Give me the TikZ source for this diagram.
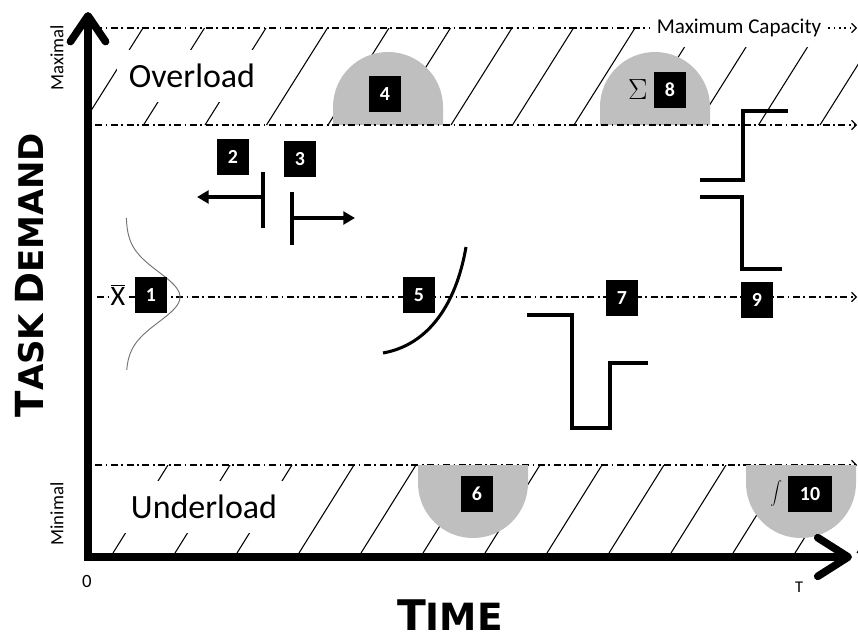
\documentclass[tikz,border=0pt]{standalone}
\usepackage{fontspec}
\setmainfont{Carlito}
\newfontfamily\headfont{DejaVu Sans}
\usetikzlibrary{positioning, arrows.meta}

\begin{document}
\begin{tikzpicture}[
  x=0.03cm, y=-0.03cm,
  numbox/.style={rectangle, fill=black, text=white, font=\bfseries\fontsize{17}{17}\selectfont, minimum width=27pt, minimum height=31pt, inner sep=0pt},
  band/.style={rectangle, fill=white, minimum height=44pt, font=\fontsize{29}{29}\selectfont},
  level/.style={line width=1pt, dash pattern=on 6pt off 3pt on 1.5pt off 3pt},
  levelarrow/.style={level, -{Straight Barb[length=4pt,width=8pt,line width=1pt]}},
  hatch/.style={line width=0.9pt},
  bump/.style={fill=black!25},
  signal/.style={line width=2.6pt},
  axis/.style={line width=6.5pt, line join=miter, {Straight Barb[length=22pt,width=30pt,round]}-{Straight Barb[length=26pt,width=33pt,round]}},
  axislabel/.style={font=\headfont\bfseries, inner sep=0pt},
  tick/.style={font=\fontsize{16}{16}\selectfont}
]

\useasboundingbox (0,0) rectangle (858,642);

% Overload hatching
\begin{scope}
  \clip (88,28) rectangle (858,125);
  \foreach \b in {82,143.5,...,870}
    \draw[hatch] (\b,125) -- ++(61,-97);
\end{scope}

% Underload hatching
\begin{scope}
  \clip (88,465) rectangle (858,553);
  \foreach \b in {113,175,...,900}
    \draw[hatch] (\b,553) -- ++(55,-88);
\end{scope}

% Band labels
\node[band, minimum width=128pt] (overload) at (192,76) {Overload};
\node[band, minimum width=160pt] (underload) at (204,507) {Underload};
\node[rectangle, fill=white, inner xsep=6pt, minimum height=32pt, font=\fontsize{18}{18}\selectfont] (capacity) at (739,28) {Maximum Capacity};

% Minimal level
\coordinate (lol) at (95,465);
\coordinate (lor) at (857,465);
\draw[levelarrow] (lol) -- (lor);

% Half discs
\fill[bump] (333,125) -- (333,107) arc[start angle=180, end angle=0, radius=1.65cm] -- (443,125) -- cycle;
\fill[bump] (600,125) -- (600,107) arc[start angle=180, end angle=0, radius=1.65cm] -- (710,125) -- cycle;
\fill[bump] (418,465) -- (418,483) arc[start angle=180, end angle=360, radius=1.65cm] -- (528,465) -- cycle;
\fill[bump] (746,465) -- (746,483) arc[start angle=180, end angle=360, radius=1.65cm] -- (856,465) -- cycle;

% Other levels
\coordinate (maxl) at (95,28);
\coordinate (maxr) at (857,28);
\coordinate (hil) at (95,125);
\coordinate (hir) at (857,125);
\coordinate (meanl) at (97,297);
\coordinate (meanr) at (857,297);
\draw[level] (maxl) -- (capacity.west);
\draw[levelarrow, dash pattern=on 1.5pt off 3pt] (capacity.east) -- (maxr);
\draw[levelarrow] (hil) -- (hir);
\draw[levelarrow] (meanl) -- (meanr);

% Distribution
\draw[black!55, line width=0.8pt, domain=218:370, samples=60, smooth, variable=\t]
  plot ({126+54*exp(-((\t-297)^2)/1250)}, \t);

% Shifts
\draw[signal] (263,172) -- (263,228);
\draw[signal, -{Triangle[length=10pt,width=11pt]}] (263,197) -- (197,197);
\draw[signal] (292,192) -- (292,245);
\draw[signal, -{Triangle[length=10pt,width=11pt]}] (292,218) -- (355,218);

% Rise
\draw[signal] (383,353) .. controls (428,345) and (456,305) .. (466,247);

% Dip
\draw[signal] (527,315) -| (572,428) -| (610,363) -- (648,363);

% Steps
\draw[signal] (700,180) -| (743,111) -- (788,111);
\draw[signal] (700,197) -| (742,269) -- (782,269);

% Markers
\node[numbox] (n1) at (151,295) {1};
\node[numbox] (n2) at (233,157) {2};
\node[numbox] (n3) at (300,159) {3};
\node[numbox] (n4) at (385,94) {4};
\node[numbox] (n5) at (419,295) {5};
\node[numbox] (n6) at (477,494) {6};
\node[numbox] (n7) at (622,298) {7};
\node[numbox] (n8) at (670,90) {8};
\node[numbox] (n9) at (757,300) {9};
\node[numbox, minimum width=38pt] (n10) at (810,494) {10};

\node[fill=white, inner sep=1pt, left=7pt of n1, font=\fontsize{24}{24}\selectfont] (mean) {$\overline{\hbox{X}}$};
\node[left=2pt of n8, font=\fontsize{30}{30}\selectfont] (sum) {$\Sigma$};
\node[left=1pt of n10, font=\fontsize{26}{26}\selectfont] (integral) {$\displaystyle\int$};

% Axes
\coordinate (ytop) at (88,12);
\coordinate (origin) at (88,557);
\coordinate (xend) at (852,557);
\draw[axis] (ytop) -- (origin) -- (xend);

% Axis labels
\node[tick, rotate=90] (maximal) at (57,58) {Maximal};
\node[tick, rotate=90] (minimal) at (57,514) {Minimal};
\node[tick] (zero) at (87,581) {0};
\node[tick, font=\fontsize{14}{14}\selectfont] (tend) at (799,587) {T};

\node[axislabel, rotate=90, anchor=base] (demand) at (43,275)
  {{\fontsize{33}{33}\selectfont T}{\fontsize{29}{29}\selectfont ASK}\hspace{4pt} {\fontsize{33}{33}\selectfont D}{\fontsize{29}{29}\selectfont EMAND}};
\node[axislabel, anchor=base] (time) at (450,630)
  {{\fontsize{36}{36}\selectfont T}{\fontsize{32}{32}\selectfont IME}};

\end{tikzpicture}
\end{document}
